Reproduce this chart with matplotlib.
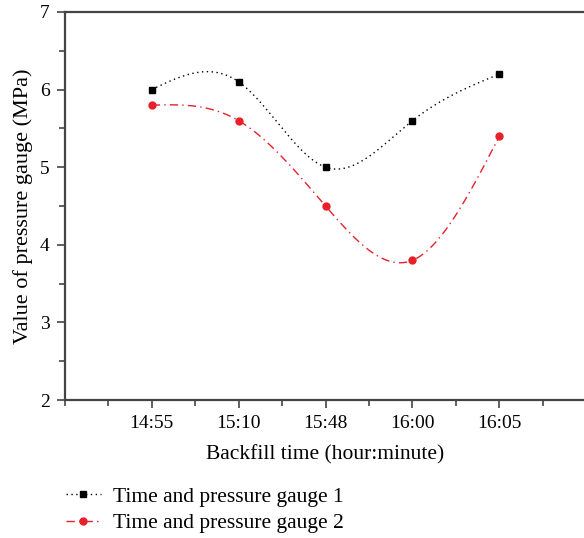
import numpy as np
import matplotlib.pyplot as plt
from matplotlib.ticker import AutoMinorLocator

times = ['14:55', '15:10', '15:48', '16:00', '16:05']
gauge1 = [6.0, 6.1, 5.0, 5.6, 6.2]
gauge2 = [5.8, 5.6, 4.5, 3.8, 5.4]


def natural_spline(x, y, n=200):
    # natural cubic spline, done by hand (no scipy)
    x = np.asarray(x, float)
    y = np.asarray(y, float)
    k = len(x)
    h = np.diff(x)
    A = np.zeros((k, k))
    b = np.zeros(k)
    A[0, 0] = A[-1, -1] = 1
    for i in range(1, k - 1):
        A[i, i - 1] = h[i - 1]
        A[i, i] = 2 * (h[i - 1] + h[i])
        A[i, i + 1] = h[i]
        b[i] = 6 * ((y[i + 1] - y[i]) / h[i] - (y[i] - y[i - 1]) / h[i - 1])
    M = np.linalg.solve(A, b)
    xs = np.linspace(x[0], x[-1], n)
    ys = np.empty_like(xs)
    for j, t in enumerate(xs):
        i = min(np.searchsorted(x, t, side='right') - 1, k - 2)
        a, c = x[i + 1] - t, t - x[i]
        ys[j] = (M[i] * a ** 3 + M[i + 1] * c ** 3) / (6 * h[i]) \
            + (y[i] / h[i] - M[i] * h[i] / 6) * a \
            + (y[i + 1] / h[i] - M[i + 1] * h[i] / 6) * c
    return xs, ys


plt.rcParams['font.family'] = ['Liberation Serif', 'DejaVu Serif']
plt.rcParams['font.size'] = 14

fig = plt.figure(figsize=(5.84, 5.38), dpi=100)
ax = fig.add_axes([0.111, 0.2565, 0.893, 0.7212])

pos = np.arange(1, len(times) + 1)
xs, ys = natural_spline(pos, gauge1)
ax.plot(xs, ys, color='black', linestyle=(0, (1, 2.5)), linewidth=1)
ax.plot(pos, gauge1, 's', color='black', markersize=4.5)
xs, ys = natural_spline(pos, gauge2)
ax.plot(xs, ys, color='#e8202a', linestyle=(0, (6, 3, 1, 3)), linewidth=1)
ax.plot(pos, gauge2, 'o', color='#e8202a', markersize=5)

# legend proxies
h1, = ax.plot([], [], color='black', linestyle=(0, (1, 2.5)), linewidth=1,
              marker='s', markersize=4.5, label='Time and pressure gauge 1')
h2, = ax.plot([], [], color='#e8202a', linestyle=(0, (6, 3, 1, 3)), linewidth=1,
              marker='o', markersize=5, label='Time and pressure gauge 2')
fig.legend(handles=[h1, h2], loc='upper left', bbox_to_anchor=(0.08, 0.131),
           frameon=False, handlelength=1.6, handletextpad=0.6, labelspacing=0.3,
           fontsize=15.5)

ax.set_xlim(0, 6)
ax.set_ylim(2, 7)
ax.set_xticks(pos)
ax.set_xticklabels(times)
ax.set_yticks([2, 3, 4, 5, 6, 7])
ax.xaxis.set_minor_locator(AutoMinorLocator(2))
ax.yaxis.set_minor_locator(AutoMinorLocator(2))
ax.tick_params(which='major', direction='out', length=6, width=1.2,
               color='#444444', labelsize=14, pad=5)
ax.tick_params(which='minor', direction='out', length=4, width=1.2, color='#444444')
for s in ax.spines.values():
    s.set_linewidth(1.6)
    s.set_color('#444444')

ax.set_xlabel('Backfill time (hour:minute)', labelpad=9, fontsize=15.5)
ax.set_ylabel('Value of pressure gauge (MPa)', labelpad=5, fontsize=16)

fig.savefig('out.png', dpi=100)
